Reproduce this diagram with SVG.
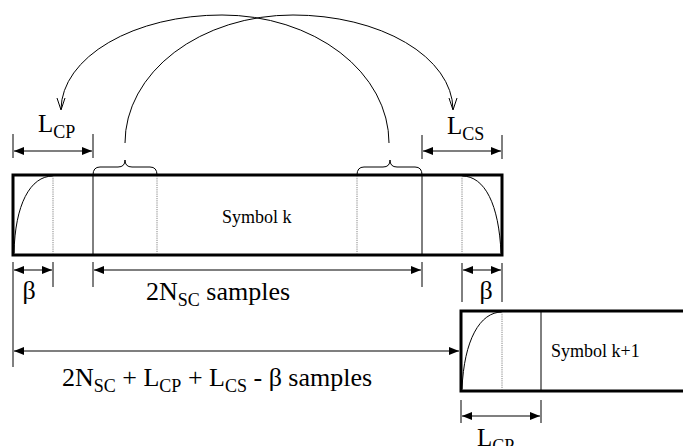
<svg xmlns="http://www.w3.org/2000/svg" width="683" height="446" viewBox="0 0 683 446">
<style>
.box{fill:none;stroke:#000;stroke-width:3}
.ln{fill:none;stroke:#000;stroke-width:1}
.dot{fill:none;stroke:#666;stroke-width:0.8;stroke-dasharray:1.2,1}
.dim{fill:none;stroke:#000;stroke-width:1.2;marker-start:url(#ah);marker-end:url(#ah)}
.arc{fill:none;stroke:#000;stroke-width:1}
text{font-family:'Liberation Serif','Times New Roman','DejaVu Serif',serif;fill:#000}
.big{font-size:26px}
.lab{font-size:25px}
.sub{font-size:18px}
.sym{font-size:18px}
</style>
<defs>
<marker id="ah" viewBox="0 0 10 8" refX="10" refY="4" markerWidth="10" markerHeight="8" markerUnits="userSpaceOnUse" orient="auto-start-reverse">
<path d="M0,0 L10,4 L0,8 z" fill="#000"/>
</marker>
</defs>
<rect width="683" height="446" fill="#fff"/>

<g id="symbol-k">
<rect class="box" x="13" y="175" width="489" height="80"/>
<path class="ln" d="M14,253 C15,205 30,176 53,176"/>
<path class="ln" d="M462,176 C485,176 499,205 501,253"/>
<line class="dot" x1="53" y1="176" x2="53" y2="254"/>
<line class="ln" x1="93" y1="176" x2="93" y2="254"/>
<line class="dot" x1="157" y1="176" x2="157" y2="254"/>
<line class="dot" x1="357" y1="176" x2="357" y2="254"/>
<line class="ln" x1="422" y1="176" x2="422" y2="254"/>
<line class="dot" x1="462" y1="176" x2="462" y2="254"/>
<text class="sym" x="222" y="223" font-family="Liberation Serif, serif">Symbol k</text>
</g>

<g id="symbol-k1">
<rect class="box" x="461" y="311" width="260" height="80"/>
<path class="ln" d="M462,389 C464,340 480,312 502,312"/>
<line class="dot" x1="502" y1="312" x2="502" y2="390"/>
<line class="ln" x1="541" y1="312" x2="541" y2="390"/>
<text class="sym" x="551" y="357" font-family="Liberation Serif, serif">Symbol k+1</text>
</g>

<g id="braces">
<path class="ln" d="M93,175 Q93,167 100,167 L118,167 Q125,167 125,160 Q125,167 132,167 L150,167 Q157,167 157,175"/>
<path class="ln" d="M357,175 Q357,167 364,167 L383,167 Q390,167 390,160 Q390,167 397,167 L415,167 Q422,167 422,175"/>
</g>

<g id="connectors">
<path class="arc" d="M125,143 A168,128 0 0 1 293,15 A160,95 0 0 1 453,109"/>
<path class="arc" d="M389,143 A167,128 0 0 0 222,15 A161,95 0 0 0 61,109"/>
<polyline class="arc" points="57,98 61,110 65,98"/>
<polyline class="arc" points="449,98 453,110 457,98"/>

<line class="ln" x1="13" y1="134" x2="13" y2="158"/>
<line class="ln" x1="93" y1="134" x2="93" y2="158"/>
<line class="dim" x1="14" y1="151" x2="92" y2="151"/>
<line class="ln" x1="422" y1="135" x2="422" y2="159"/>
<line class="ln" x1="502" y1="135" x2="502" y2="159"/>
<line class="dim" x1="423" y1="151" x2="501" y2="151"/>

<line class="ln" x1="13" y1="262" x2="13" y2="367"/>
<line class="ln" x1="53" y1="262" x2="53" y2="287"/>
<line class="ln" x1="93" y1="262" x2="93" y2="287"/>
<line class="ln" x1="422" y1="262" x2="422" y2="287"/>
<line class="ln" x1="462" y1="263" x2="462" y2="302"/>
<line class="ln" x1="502" y1="263" x2="502" y2="302"/>
<line class="dim" x1="14" y1="270" x2="52" y2="270"/>
<line class="dim" x1="94" y1="270" x2="421" y2="270"/>
<line class="dim" x1="463" y1="270" x2="501" y2="270"/>

<line class="dim" x1="14" y1="351" x2="459" y2="351"/>

<line class="ln" x1="461" y1="400" x2="461" y2="423"/>
<line class="ln" x1="541" y1="400" x2="541" y2="423"/>
<line class="dim" x1="462" y1="416" x2="540" y2="416"/>
</g>

<g id="labels" font-family="Liberation Serif, serif">
<text class="lab" x="38" y="132">L<tspan class="sub" dy="6">CP</tspan></text>
<text class="lab" x="447" y="134">L<tspan class="sub" dy="6">CS</tspan></text>
<text class="big" x="29" y="299" text-anchor="middle">β</text>
<text class="big" x="486" y="299" text-anchor="middle">β</text>
<text class="big" x="146" y="300">2N<tspan class="sub" dy="6">SC</tspan><tspan dy="-6"> samples</tspan></text>
<text class="big" x="62" y="386">2N<tspan class="sub" dy="6">SC</tspan><tspan dy="-6"> + L</tspan><tspan class="sub" dy="6">CP</tspan><tspan dy="-6"> + L</tspan><tspan class="sub" dy="6">CS</tspan><tspan dy="-6"> - β samples</tspan></text>
<text class="lab" x="477" y="446">L<tspan class="sub" dy="6">CP</tspan></text>
</g>
</svg>
